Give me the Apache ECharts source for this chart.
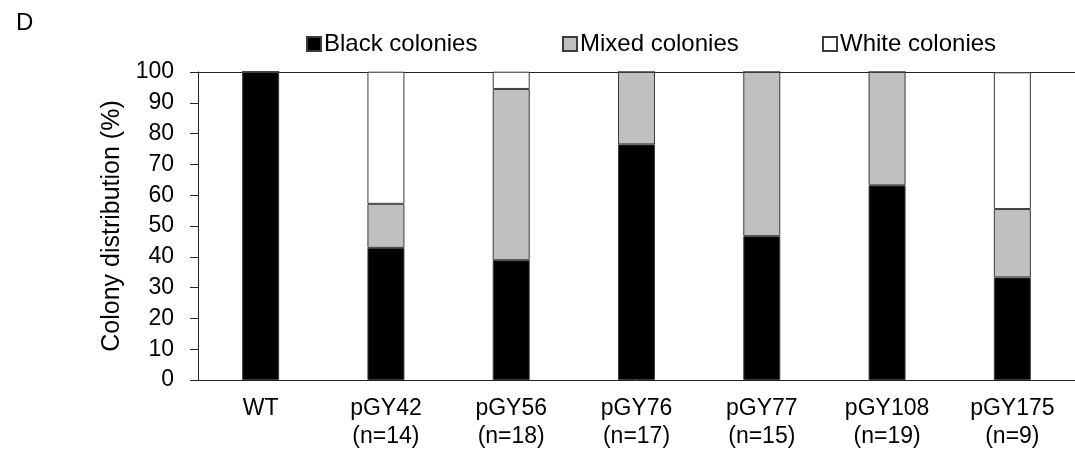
<!DOCTYPE html>
<html>
<head>
<meta charset="utf-8">
<script src="https://cdn.jsdelivr.net/npm/echarts@6/dist/echarts.min.js"></script>
<style>
  html, body { margin: 0; padding: 0; background: #fff; }
  #chart { width: 1075px; height: 454px; }
</style>
</head>
<body>
<div id="chart"></div>
<script>
var strains = ['WT', 'pGY42', 'pGY56', 'pGY76', 'pGY77', 'pGY108', 'pGY175'];
var colonyCounts = [null, 14, 18, 17, 15, 19, 9];
// percent of colonies per strain
var blackPct = [100, 42.9, 38.9, 76.5, 46.7, 63.2, 33.3];
var mixedPct = [0, 14.3, 55.6, 23.5, 53.3, 36.8, 22.2];
var whitePct = [0, 42.9, 5.6, 0, 0, 0, 44.4];

var font = 'Liberation Sans, Arial, sans-serif';
var edge = '#3c3c3c';

var xLabels = strains.map(function (s, i) {
    return colonyCounts[i] == null ? s : s + '\n(n=' + colonyCounts[i] + ')';
});

function legendAt(name, x) {
    return {
        data: [name],
        left: x,
        top: 32,
        padding: 0,
        itemWidth: 14,
        itemHeight: 14,
        icon: 'rect',
        selectedMode: false,
        textStyle: { fontFamily: font, fontSize: 24, color: '#000', padding: [0, 0, 0, -2] }
    };
}

function barSeries(name, color, values) {
    return {
        name: name,
        type: 'bar',
        stack: 'total',
        barWidth: 37,
        data: values,
        itemStyle: { color: color, borderColor: edge, borderWidth: 1 },
        emphasis: { disabled: true }
    };
}

var myChart = echarts.init(document.getElementById('chart'));
myChart.setOption({
    animation: false,
    title: {
        text: 'D',
        left: 11,
        top: 6,
        textStyle: { fontFamily: font, fontSize: 24, fontWeight: 'normal', color: '#000' }
    },
    legend: [
        legendAt('Black colonies', 306),
        legendAt('Mixed colonies', 562),
        legendAt('White colonies', 822)
    ],
    grid: { left: 198, right: 0, top: 72, bottom: 74 },
    xAxis: [{
        type: 'category',
        data: xLabels,
        axisLine: { lineStyle: { color: '#222', width: 1 } },
        axisTick: { inside: true, length: 7, lineStyle: { color: '#222' } },
        axisLabel: {
            fontFamily: font, fontSize: 23, color: '#000',
            lineHeight: 28, margin: 15, interval: 0
        }
    }, {
        type: 'category',
        position: 'top',
        data: xLabels,
        axisLine: { show: true, onZero: false, lineStyle: { color: '#222', width: 1 } },
        axisTick: { show: false },
        axisLabel: { show: false }
    }],
    yAxis: {
        type: 'value',
        min: 0,
        max: 100,
        interval: 10,
        name: 'Colony distribution (%)',
        nameLocation: 'middle',
        nameRotate: 90,
        nameGap: 70,
        nameTextStyle: { fontFamily: font, fontSize: 25, color: '#000' },
        axisLine: { show: true, lineStyle: { color: '#222', width: 1 } },
        axisTick: { show: true, length: 8, lineStyle: { color: '#222' } },
        axisLabel: { fontFamily: font, fontSize: 23, color: '#000', margin: 24 },
        splitLine: { show: false }
    },
    series: [
        barSeries('Black colonies', '#000000', blackPct),
        barSeries('Mixed colonies', '#c0c0c0', mixedPct),
        barSeries('White colonies', '#ffffff', whitePct)
    ]
});
</script>
</body>
</html>
